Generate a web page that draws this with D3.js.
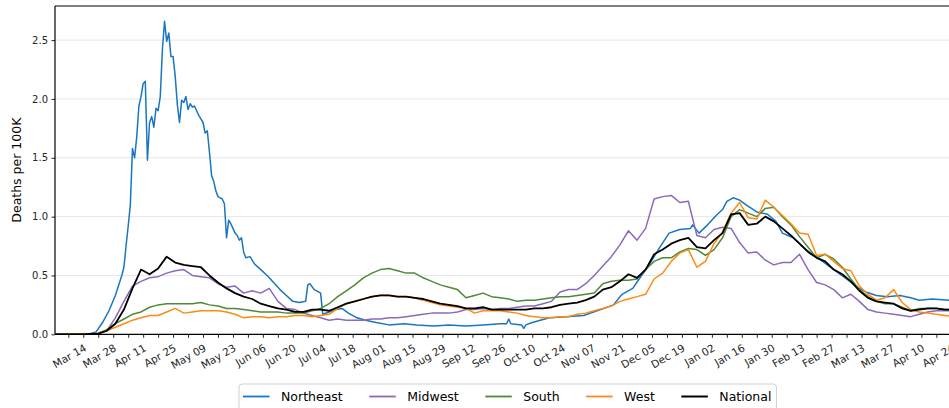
<!DOCTYPE html>
<html>
<head>
<meta charset="utf-8">
<script src="https://cdn.jsdelivr.net/npm/d3@7"></script>
<style>
  html, body { margin: 0; padding: 0; background: #fff; overflow: hidden; }
  svg { display: block; font-family: "DejaVu Sans", sans-serif; }
</style>
</head>
<body>
<svg id="chart" width="949" height="408"></svg>
<script>
// ---------------- data ----------------
const startDate = "2020-03-01";
const seriesNames = ["Northeast", "Midwest", "South", "West", "National"];
const seriesColors = ["#1a76c0", "#8c69bb", "#4f8a37", "#ff8a12", "#000000"];
const yTicks = [0.0, 0.5, 1.0, 1.5, 2.0, 2.5];
const xTickLabelStart = "2020-03-14"; // labels every 14 days
const yLabel = "Deaths per 100K";

// Northeast: [day offset from startDate, value]
const northeastDays = [0,16,19,22,25,28,31,32,33,34,35,36,37,38,39,40,41,42,43,44,45,46,47,48,49,50,51,52,53,54,55,56,57,58,59,60,61,62,63,64,65,66,67,68,69,70,71,72,73,74,75,76,77,78,79,80,81,82,83,84,85,86,87,88,89,91,93,96,99,102,105,108,111,114,117,118,119,121,123,124,125,128,131,134,137,141,145,150,156,163,169,177,184,192,200,208,211,212,213,218,219,220,223,231,239,247,255,261,265,270,273,278,283,287,292,297,298,301,305,309,312,314,317,320,323,328,333,337,340,345,351,358,364,370,375,379,384,389,395,400,404,410,418,425];
const northeastValues = [0,0.005,0.02,0.10,0.20,0.33,0.50,0.57,0.75,0.92,1.10,1.58,1.50,1.68,1.94,2.02,2.13,2.15,1.48,1.80,1.85,1.76,1.92,1.90,2.02,2.42,2.66,2.49,2.56,2.36,2.36,2.19,1.95,1.80,1.99,1.97,2.02,1.91,1.96,1.93,1.94,1.90,1.86,1.83,1.80,1.71,1.73,1.55,1.35,1.30,1.22,1.17,1.16,1.15,1.11,0.82,0.97,0.94,0.90,0.86,0.84,0.80,0.82,0.70,0.65,0.66,0.60,0.55,0.50,0.44,0.38,0.33,0.28,0.27,0.28,0.42,0.43,0.38,0.36,0.35,0.17,0.19,0.21,0.22,0.18,0.14,0.12,0.10,0.08,0.09,0.08,0.07,0.08,0.07,0.08,0.09,0.09,0.13,0.09,0.08,0.05,0.08,0.10,0.14,0.15,0.16,0.21,0.25,0.34,0.39,0.47,0.60,0.75,0.86,0.89,0.90,0.93,0.86,0.93,1.01,1.06,1.13,1.16,1.14,1.10,1.04,1.02,0.96,0.86,0.82,0.72,0.63,0.55,0.47,0.40,0.36,0.33,0.32,0.33,0.31,0.29,0.30,0.29,0.29];

// Other regions sampled every 4 days from startDate
const gridDays = d3.range(0, 424, 4);
const midwestValues = [0,0,0,0,0,0.005,0.03,0.14,0.28,0.41,0.45,0.48,0.49,0.52,0.54,0.55,0.50,0.49,0.48,0.43,0.40,0.41,0.35,0.37,0.35,0.39,0.28,0.22,0.21,0.18,0.16,0.14,0.12,0.13,0.12,0.12,0.12,0.13,0.13,0.14,0.14,0.15,0.16,0.17,0.18,0.18,0.18,0.19,0.21,0.21,0.22,0.21,0.22,0.22,0.23,0.24,0.24,0.26,0.28,0.36,0.38,0.38,0.43,0.50,0.58,0.66,0.76,0.88,0.80,0.90,1.15,1.17,1.18,1.12,1.13,0.84,0.82,0.89,0.91,0.90,0.78,0.69,0.70,0.63,0.59,0.61,0.61,0.68,0.55,0.44,0.42,0.38,0.31,0.34,0.28,0.21,0.19,0.18,0.17,0.16,0.15,0.17,0.19,0.20,0.20,0.20];
const southValues = [0,0,0,0,0.003,0.01,0.04,0.09,0.13,0.17,0.19,0.23,0.25,0.26,0.26,0.26,0.26,0.27,0.25,0.24,0.22,0.22,0.21,0.20,0.19,0.19,0.19,0.18,0.18,0.18,0.20,0.22,0.26,0.32,0.37,0.42,0.48,0.52,0.55,0.56,0.54,0.52,0.52,0.48,0.45,0.42,0.40,0.38,0.31,0.33,0.35,0.32,0.31,0.30,0.28,0.29,0.29,0.30,0.31,0.32,0.32,0.33,0.34,0.35,0.43,0.45,0.46,0.46,0.47,0.55,0.62,0.65,0.65,0.70,0.73,0.72,0.67,0.72,0.82,1.00,1.06,1.03,1.00,1.07,1.08,1.00,0.93,0.83,0.74,0.65,0.68,0.64,0.57,0.47,0.38,0.32,0.28,0.26,0.26,0.23,0.20,0.22,0.22,0.22,0.21,0.21];
const westValues = [0,0,0,0,0.003,0.01,0.03,0.06,0.09,0.12,0.14,0.16,0.16,0.19,0.22,0.18,0.19,0.20,0.20,0.20,0.19,0.17,0.14,0.15,0.15,0.14,0.15,0.15,0.16,0.16,0.15,0.16,0.17,0.22,0.26,0.28,0.30,0.32,0.33,0.33,0.32,0.32,0.31,0.29,0.27,0.25,0.24,0.23,0.22,0.18,0.20,0.20,0.20,0.19,0.18,0.16,0.15,0.14,0.14,0.15,0.15,0.17,0.18,0.20,0.22,0.24,0.28,0.30,0.32,0.34,0.47,0.52,0.62,0.69,0.72,0.57,0.62,0.77,0.87,1.03,1.12,0.99,0.98,1.14,1.08,1.01,0.94,0.86,0.85,0.67,0.68,0.62,0.56,0.54,0.41,0.34,0.29,0.31,0.38,0.27,0.21,0.19,0.18,0.17,0.16,0.15];
const nationalValues = [0,0,0,0,0.003,0.005,0.03,0.09,0.21,0.39,0.55,0.51,0.56,0.66,0.61,0.59,0.58,0.57,0.50,0.44,0.39,0.35,0.32,0.30,0.26,0.24,0.22,0.21,0.19,0.19,0.21,0.21,0.20,0.23,0.26,0.28,0.30,0.32,0.33,0.33,0.32,0.32,0.31,0.30,0.28,0.26,0.25,0.24,0.22,0.22,0.23,0.21,0.21,0.21,0.21,0.21,0.22,0.22,0.23,0.25,0.26,0.27,0.29,0.32,0.38,0.40,0.45,0.51,0.48,0.55,0.68,0.72,0.77,0.80,0.82,0.74,0.73,0.80,0.86,1.02,1.03,0.93,0.94,1.00,0.96,0.90,0.84,0.77,0.70,0.65,0.62,0.55,0.51,0.45,0.37,0.31,0.28,0.27,0.26,0.22,0.20,0.21,0.22,0.22,0.21,0.21];

// ---------------- drawing ----------------
const svg = d3.select("#chart");
const W = 949, H = 408;
const plot = { left: 55, top: 6, bottom: 334.3 };
const start = d3.timeParse("%Y-%m-%d")(startDate);
const pxPerDay = 2.138;
const totalDays = 430;
const dayToDate = d => d3.timeDay.offset(start, d);

const x = d3.scaleTime()
  .domain([start, dayToDate(totalDays)])
  .range([plot.left + 0.5, plot.left + 0.5 + pxPerDay * totalDays]);
const y = d3.scaleLinear().domain([0, 2.79]).range([plot.bottom, plot.top]);

// gridlines
svg.append("g").selectAll("line").data(yTicks.filter(v => v > 0)).join("line")
  .attr("x1", plot.left).attr("x2", W)
  .attr("y1", d => y(d)).attr("y2", d => y(d))
  .attr("stroke", "#e6e6e6").attr("stroke-width", 1);

// clip
svg.append("clipPath").attr("id", "clip").append("rect")
  .attr("x", plot.left).attr("y", plot.top).attr("width", W).attr("height", plot.bottom - plot.top);

const seriesData = [
  northeastDays.map((d, i) => ({ date: dayToDate(d), v: northeastValues[i] })),
  gridDays.map((d, i) => ({ date: dayToDate(d), v: midwestValues[i] })),
  gridDays.map((d, i) => ({ date: dayToDate(d), v: southValues[i] })),
  gridDays.map((d, i) => ({ date: dayToDate(d), v: westValues[i] })),
  gridDays.map((d, i) => ({ date: dayToDate(d), v: nationalValues[i] }))
];

const line = d3.line().x(d => x(d.date)).y(d => y(d.v));
const g = svg.append("g").attr("clip-path", "url(#clip)");
[0, 1, 2, 3, 4].forEach(k => {
  g.append("path")
    .datum(seriesData[k].filter(p => p.v !== undefined))
    .attr("fill", "none")
    .attr("stroke", seriesColors[k])
    .attr("stroke-width", k === 4 ? 1.8 : 1.5)
    .attr("stroke-linejoin", "round")
    .attr("d", line);
});

// y axis
const yAxis = d3.axisLeft(y).tickValues(yTicks).tickFormat(d3.format(".1f")).tickSize(3.5).tickPadding(3.5);
const yg = svg.append("g").attr("transform", `translate(${plot.left},0)`).call(yAxis);
yg.select(".domain").remove();
yg.selectAll("text").attr("font-size", 10).attr("fill", "#262626").attr("font-family", "DejaVu Sans");
yg.selectAll("line").attr("stroke", "#262626");

// x axis: weekly ticks, labels every two weeks
const firstLabel = d3.timeParse("%Y-%m-%d")(xTickLabelStart);
const weeklyTicks = d3.timeDay.range(d3.timeDay.offset(firstLabel, -7), dayToDate(totalDays), 7);
const labelTicks = d3.timeDay.range(firstLabel, dayToDate(totalDays), 14);
const xAxis = d3.axisBottom(x).tickValues(weeklyTicks).tickSize(3.5).tickFormat("");
const xg = svg.append("g").attr("transform", `translate(0,${plot.bottom})`).call(xAxis);
xg.select(".domain").remove();
xg.selectAll("line").attr("stroke", "#262626");

const fmt = d3.timeFormat("%b %d");
svg.append("g").selectAll("text").data(labelTicks).join("text")
  .attr("transform", d => `translate(${x(d)},${plot.bottom + 9}) rotate(-30)`)
  .attr("text-anchor", "end")
  .attr("dy", "0.75em")
  .attr("font-size", 10.5)
  .attr("fill", "#262626")
  .text(d => fmt(d));

// frame lines
svg.append("line").attr("x1", plot.left).attr("x2", W).attr("y1", plot.top).attr("y2", plot.top)
  .attr("stroke", "#000").attr("stroke-width", 1.2);
svg.append("line").attr("x1", plot.left).attr("x2", plot.left).attr("y1", plot.top).attr("y2", plot.bottom)
  .attr("stroke", "#000").attr("stroke-width", 1.2);
svg.append("line").attr("x1", plot.left).attr("x2", W).attr("y1", plot.bottom).attr("y2", plot.bottom)
  .attr("stroke", "#000").attr("stroke-width", 1.2);

// y label
svg.append("text")
  .attr("transform", `translate(21,${(plot.top + plot.bottom) / 2}) rotate(-90)`)
  .attr("text-anchor", "middle")
  .attr("font-size", 12.5)
  .attr("fill", "#000")
  .text(yLabel);

// legend
const legend = svg.append("g");
const lgBox = legend.append("rect")
  .attr("x", 239).attr("y", 384).attr("height", 40).attr("rx", 3)
  .attr("fill", "#fff").attr("stroke", "#d0d0d0").attr("stroke-width", 1);
let cx = 243;
seriesNames.forEach((name, k) => {
  legend.append("line")
    .attr("x1", cx).attr("x2", cx + 26.5).attr("y1", 396.5).attr("y2", 396.5)
    .attr("stroke", seriesColors[k]).attr("stroke-width", k === 4 ? 2 : 1.8);
  const t = legend.append("text")
    .attr("x", cx + 38).attr("y", 401)
    .attr("font-size", 12.5).attr("fill", "#000")
    .text(name);
  const w = t.node().getComputedTextLength();
  cx = cx + 38 + w + 26.5;
});
lgBox.attr("width", cx - 26.5 + 5 - 239);
</script>
</body>
</html>
